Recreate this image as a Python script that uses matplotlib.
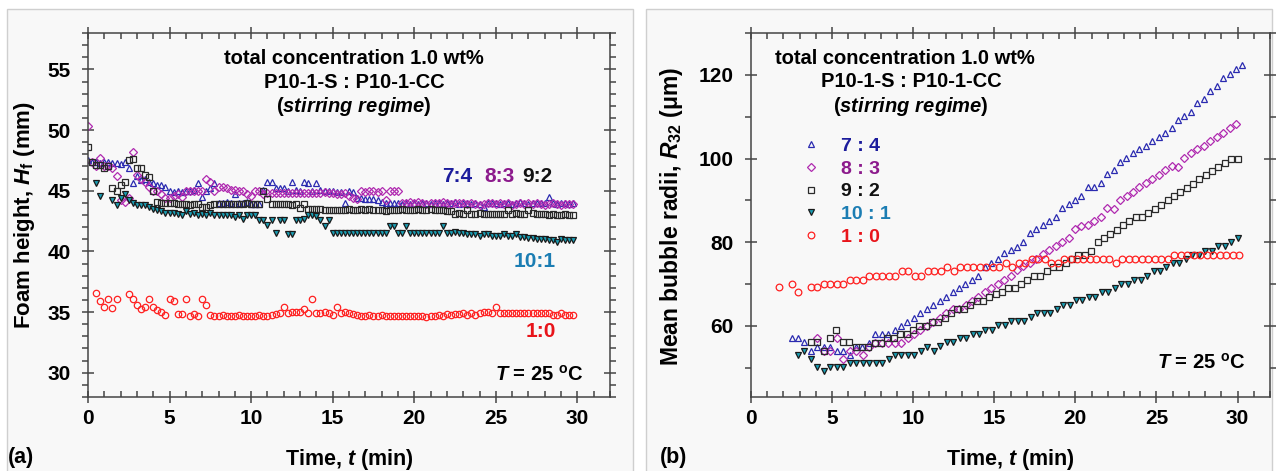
import numpy as np
import matplotlib
matplotlib.use("Agg")
import matplotlib.pyplot as plt
from matplotlib.patches import Rectangle
from matplotlib.lines import Line2D
from matplotlib.ticker import MultipleLocator

plt.rcParams['font.family'] = ['Liberation Sans', 'DejaVu Sans']
plt.rcParams['font.weight'] = 'bold'
plt.rcParams['axes.labelweight'] = 'bold'
plt.rcParams['mathtext.fontset'] = 'custom'
plt.rcParams['mathtext.rm'] = 'Liberation Sans:bold'
plt.rcParams['mathtext.it'] = 'Liberation Sans:italic:bold'
plt.rcParams['mathtext.bf'] = 'Liberation Sans:bold'

nan = np.nan

# ---- (a) foam height (mm), one reading every 0.25 min from t = 0 ----
t_a = np.arange(0, 30, 0.25)

h_74 = [47.5, 47.4, 47.4, 47.3, 47.4, 47.4, 47.3, 47.3, 47.2, 47.4, 46.9, 45.6, 46.2, 45.9, 46.0, 45.7, 45.6, 45.5, 45.5, 45.3,
        45.0, 44.9, 45.0, 44.9, 45.0, 45.0, 45.1, 45.6, 44.5, 45.0, 45.2, 45.6, 44.0, 44.0, 44.1, 44.0, 44.7, 44.0, 44.0, 44.1,
        43.9, 43.9, 43.9, 45.1, 45.7, 45.7, 45.2, 45.2, 45.2, 45.0, 45.7, 45.1, 45.0, 45.7, 45.6, 45.0, 45.6, 45.1, 45.0, 45.0,
        45.0, 44.9, 44.9, 44.0, 45.0, 44.9, 44.4, 44.4, 44.3, 44.3, 44.3, 44.2, 44.1, 44.0, 44.0, 44.0, 44.0, 43.9, 44.0, 43.9,
        44.0, 43.9, 44.0, 44.0, 43.9, 44.0, 44.0, 43.9, 44.0, 44.0, 44.1, 43.9, 44.0, 44.0, 43.9, 44.0, 43.9, 43.7, 44.0, 44.0,
        44.0, 43.9, 44.0, 44.0, 43.9, 44.0, 44.1, 44.0, 43.9, 44.0, 44.0, 44.0, 44.0, 44.5, 44.0, 43.9, 44.0, 44.0, 43.9, 44.0]

h_83 = [50.3, 47.4, 47.0, 47.7, 47.0, 47.0, 46.9, 46.2, 44.2, 44.1, 44.4, 48.2, 46.3, 46.0, 45.7, 45.3, 45.0, 45.0, 44.7, 44.4,
        44.4, 44.6, 44.7, 44.5, 45.0, 45.0, 45.0, 45.0, 45.0, 46.0, 45.7, 45.0, 45.3, 45.3, 45.2, 45.1, 45.1, 45.0, 45.0, 44.7,
        44.6, 45.0, 45.0, 44.7, 44.8, 44.8, 44.8, 44.8, 44.8, 44.8, 44.8, 44.8, 44.8, 44.8, 44.8, 44.8, 44.8, 44.8, 44.9, 44.8,
        44.8, 44.7, 44.7, 44.8, 44.6, 44.4, 44.3, 45.0, 44.9, 45.0, 45.0, 44.9, 45.0, 44.2, 45.0, 45.0, 45.0, 44.0, 44.0, 44.1,
        44.0, 44.1, 44.0, 43.9, 44.0, 44.0, 44.0, 44.1, 44.0, 43.9, 44.0, 44.0, 44.0, 43.9, 44.0, 43.9, 43.8, 43.9, 44.0, 44.0,
        43.9, 44.0, 43.9, 44.0, 43.8, 43.9, 44.0, 43.9, 44.0, 43.9, 44.0, 43.9, 43.8, 43.9, 44.0, 43.9, 43.8, 43.9, 43.9, 43.9]

h_92 = [48.6, 47.4, 47.1, 47.1, 46.9, 47.0, 45.2, 45.0, 45.5, 45.7, 47.5, 47.6, 46.9, 46.9, 46.3, 46.1, 45.0, 44.1, 44.0, 44.0,
        44.0, 44.0, 43.9, 43.9, 43.9, 43.8, 43.9, 43.9, 43.7, 43.7, 43.8, 43.9, 43.9, 43.9, 43.9, 43.9, 43.9, 43.9, 43.9, 44.0,
        43.9, 43.9, 43.9, 45.0, 44.3, 43.9, 43.9, 43.9, 43.9, 43.9, 43.8, 43.9, 43.6, 43.9, 43.5, 43.5, 43.5, 43.5, 43.4, 43.4,
        43.4, 43.4, 43.4, 43.4, 43.5, 43.4, 43.4, 43.5, 43.4, 43.5, 43.4, 43.4, 43.4, 43.3, 43.4, 43.4, 43.4, 43.5, 43.4, 43.4,
        43.4, 43.5, 43.4, 43.4, 43.5, 43.4, 43.4, 43.4, 43.3, 43.3, 43.1, 43.2, 43.1, 43.4, 43.1, 43.1, 43.2, 43.1, 43.1, 43.1,
        43.1, 43.1, 43.1, 43.4, 43.1, 43.2, 43.1, 43.1, 43.4, 43.2, 43.1, 43.1, 43.1, 43.0, 43.1, 43.0, 43.0, 43.1, 43.0, 43.0]

h_101 = [nan, nan, 45.6, 44.6, nan, nan, 44.2, 43.8, 44.4, 44.7, 44.2, 44.0, 43.8, 43.8, 43.8, 43.7, 43.5, 43.4, 43.3, 43.2,
         43.2, 43.2, 43.1, 43.0, 43.3, 43.1, 43.2, 43.0, 43.1, 43.0, 43.2, 43.0, 43.0, 43.0, 43.0, 43.0, 42.8, 43.0, 42.7, 43.0,
         43.0, 43.0, 42.6, 42.6, 42.2, 42.6, 41.5, 42.6, 42.6, 41.4, 41.4, 42.6, 42.6, 42.7, 43.0, 43.0, 42.9, 42.6, 42.1, 42.6,
         41.5, 41.5, 41.5, 41.5, 41.5, 41.5, 41.5, 41.5, 41.5, 41.5, 41.5, 41.5, 41.5, 41.5, 42.1, 42.1, 41.5, 41.5, 42.1, 41.5,
         41.5, 41.5, 41.5, 41.5, 41.5, 41.5, 41.5, 42.1, 41.5, 41.5, 41.6, 41.5, 41.5, 41.4, 41.4, 41.4, 41.3, 41.4, 41.4, 41.3,
         41.3, 41.3, 41.4, 41.3, 41.3, 41.4, 41.2, 41.2, 41.1, 41.1, 41.0, 41.0, 41.0, 40.9, 40.9, 40.8, 41.0, 40.9, 40.9, 40.9]

h_10 = [nan, nan, 36.55, 35.95, 35.45, 36.05, 35.3, 36.05, nan, nan, 36.45, 36.05, 35.6, 35.25, 35.45, 36.1, 35.45, 35.2, 35.0, 34.75,
        36.1, 35.9, 34.8, 34.8, 36.1, 34.7, 34.8, 34.7, 36.1, 35.6, 34.75, 34.7, 34.65, 34.75, 34.7, 34.65, 34.7, 34.75, 34.7, 34.7,
        34.65, 34.7, 34.75, 34.7, 34.7, 34.75, 34.8, 34.95, 35.45, 34.95, 35.0, 35.0, 35.0, 35.25, 34.95, 36.1, 34.95, 34.95, 35.0, 34.95,
        34.75, 35.45, 34.95, 35.0, 34.95, 34.8, 34.75, 34.7, 34.7, 34.75, 34.7, 34.7, 34.75, 34.7, 34.7, 34.7, 34.65, 34.7, 34.7, 34.65,
        34.7, 34.65, 34.7, 34.6, 34.7, 34.7, 34.75, 34.7, 34.8, 34.75, 34.8, 34.8, 34.95, 34.75, 34.95, 34.75, 34.95, 35.0, 35.0, 34.95,
        35.45, 34.95, 34.95, 34.95, 34.95, 34.95, 34.95, 34.95, 34.95, 34.95, 34.95, 34.95, 34.95, 34.95, 34.75, 34.75, 34.95, 34.75, 34.75, 34.75]

# ---- (b) mean bubble radius R32 (um); first/last reading time, evenly spaced ----
r_74 = [57.1, 57.1, 56.1, 54.1, 55, 55, 55, 54, 54, 53,
        55, 55, 56, 58, 58, 58, 59, 60, 61, 62,
        63, 64, 65, 66, 67, 68, 69, 70, 71, 72,
        74, 75, 76, 77.3, 78.1, 78.9, 80.1, 82.1, 83.1, 84.1,
        85.1, 86.1, 88.1, 89.2, 90.1, 91.1, 93.2, 93.2, 94.1, 96.2,
        97.2, 99.1, 100.2, 101.2, 102.2, 103.1, 104.2, 105.2, 106.2, 107.2,
        109.3, 110.2, 111.2, 113.3, 114.2, 116.2, 117.3, 119.2, 120.2, 121.3,
        122.3]
r_83 = [57.1, 54.1, 54.0, 57.1, 52.1, 54.1, 54.0, 53.1, 55.0, 56.0,
        56.0, 56.0, 56.0, 56.0, 57.0, 58.0, 59.0, 60.0, 61.0, 62.0,
        63.0, 64.0, 64.0, 65.0, 66.0, 67.0, 68.0, 69.0, 70.0, 71.0,
        72.0, 73.3, 74.2, 75.0, 76.1, 77.1, 78.1, 79.0, 80.1, 81.1,
        83.1, 83.9, 84.1, 85.1, 86.1, 88.1, 87.9, 90.1, 91.1, 92.1,
        93.2, 94.1, 95.1, 96.1, 97.2, 98.2, 98.0, 100.2, 101.2, 102.2,
        103.1, 104.2, 105.2, 106.2, 107.2, 108.2]
r_92 = [56.1, 56.1, 54.1, 57.1, 59.0, 56.1, 56.1, 55, 55, 55,
        56, 56, 57, 57, 58, 58, 59, 60, 60, 61,
        61, 62, 63, 64, 64, 65, 66, 66, 67, 67.5,
        68, 69, 69, 70, 71, 72, 72, 73, 74, 74,
        75, 76, 77, 77, 78, 80, 81, 82, 83, 84,
        85, 86, 86, 87, 88, 89, 90, 91, 92, 93,
        94, 95, 96, 97, 98, 99, 100, 100]
r_101 = [53.1, 54.1, 52.1, 50.1, 49.1, 50.1, 50.1, 50.1, 51.1, 51.1,
         51.1, 51.1, 51.1, 51.1, 52.1, 53.1, 53.1, 53.1, 53.1, 54.1,
         54.9, 54.1, 55.1, 56.1, 56.1, 57.1, 57.1, 58.1, 58.1, 59.1,
         59.1, 60.1, 60.1, 61.1, 61.1, 61.1, 62.1, 63.1, 63.1, 63.1,
         64.1, 65.1, 65.1, 66.1, 66.1, 67, 67, 68, 68, 69,
         70, 70, 71, 71, 72, 73, 73, 74, 75, 75,
         76, 77, 77, 78, 78, 79, 79, 80, 81]
r_10 = [69.2, nan, 70.1, 68.1, nan, 69.2, 69.2, 70, 70, 70,
        70, 71, 71, 71, 72, 72, 72, 72, 72, 73,
        73, 72, 72, 73, 73, 73, 74, 73, 74, 74,
        74, 74, 74, 74, 74, 75, 74, 75, 75, 76,
        76, 76, 75, 75, 76, 76, 76, 76, 76, 76,
        76, 76, 75, 76, 76, 76, 76, 76, 76, 76,
        76, 77, 77, 77, 77, 77, 77, 77, 77, 77,
        77, 77]
r_first_last = [(2.5, 30.3), (4.1, 29.9), (3.7, 30.0), (2.9, 30.0), (1.7, 30.1)]

labels_a = ['7:4', '8:3', '9:2', '10:1', '1:0']
labels_b = ['7 : 4', '8 : 3', '9 : 2', '10 : 1', '1 : 0']
text_colors = ['#1c1c9c', '#8c1a8c', '#111111', '#1b7db3', '#e8141a']

# marker styles for 7:4, 8:3, 9:2, 10:1, 1:0
styles = [dict(marker='^', mfc='none', mec='#2a2ab0'),
          dict(marker='D', mfc='none', mec='#b02ab0'),
          dict(marker='s', mfc='none', mec='#2a2a2a'),
          dict(marker='v', mfc='#1a9fb5', mec='#1a1a1a'),
          dict(marker='o', mfc='none', mec='#ff2020')]
msize_a = [5.0, 4.2, 4.6, 5.0, 4.6]
msize_b = [5.0, 4.2, 4.6, 5.0, 4.8]

fig = plt.figure(figsize=(12.79, 4.71), dpi=100, facecolor='white')

# light panel frames behind each graph
for x0 in (7 / 1279, 646 / 1279):
    fig.add_artist(Rectangle((x0, -0.02), 626 / 1279, 1.0, transform=fig.transFigure,
                             facecolor='#f8f8f8', edgecolor='#cfcfcf', lw=1, zorder=-10))

ax1 = fig.add_axes([88 / 1279, 74 / 471, 522 / 1279, 364 / 471])
ax2 = fig.add_axes([751 / 1279, 74 / 471, 519 / 1279, 364 / 471])


def style_axes(ax, ymaj, ymin):
    ax.set_facecolor('#f8f8f8')
    ax.xaxis.set_major_locator(MultipleLocator(5))
    ax.xaxis.set_minor_locator(MultipleLocator(1))
    ax.yaxis.set_major_locator(MultipleLocator(ymaj))
    ax.yaxis.set_minor_locator(MultipleLocator(ymin))
    ax.tick_params(which='both', top=True, right=True, color='#444444', width=1.1)
    ax.tick_params(which='major', direction='inout', length=9, labelsize=15)
    ax.tick_params(axis='x', which='major', pad=4)
    ax.tick_params(axis='y', which='major', pad=8)
    ax.tick_params(axis='x', which='minor', direction='in', length=4)
    ax.tick_params(axis='y', which='minor', direction='out', length=4)
    for s in ax.spines.values():
        s.set_color('#444444')
        s.set_linewidth(1.1)


# ---- panel (a) ----
for vals, st, ms in zip([h_74, h_83, h_92, h_101, h_10], styles, msize_a):
    ax1.plot(t_a, vals, ls='none', ms=ms, mew=0.9, **st)
ax1.set_xlim(0, 32)
ax1.set_ylim(28, 58)
style_axes(ax1, 5, 1)
ax1.set_xlabel('Time, $t$ (min)', fontsize=15.5)
ax1.xaxis.set_label_coords(0.5, -0.138)
ax1.set_ylabel('Foam height, $H_\\mathrm{f}$ (mm)', fontsize=16)
ax1.yaxis.set_label_coords(-0.098, 0.5)

for s, y in zip(['total concentration 1.0 wt%', 'P10-1-S : P10-1-CC',
                 '($stirring\\ regime$)'], [0.931, 0.865, 0.797]):
    ax1.text(0.51, y, s, transform=ax1.transAxes, ha='center', va='center', fontsize=14.5)

for lab, c, x, y in zip(labels_a, text_colors,
                        [0.707, 0.789, 0.860, 0.856, 0.868],
                        [0.607, 0.607, 0.607, 0.371, 0.181]):
    ax1.text(x, y, lab, transform=ax1.transAxes, ha='center', va='center',
             fontsize=15, color=c)
ax1.text(0.95, 0.062, '$T$ = 25 $^{\\mathrm{o}}$C', transform=ax1.transAxes,
         ha='right', va='center', fontsize=14.5)

# ---- panel (b) ----
for vals, (t0, t1), st, ms in zip([r_74, r_83, r_92, r_101, r_10], r_first_last, styles, msize_b):
    tt = np.linspace(t0, t1, len(vals))
    ax2.plot(tt, vals, ls='none', ms=ms, mew=0.9, **st)
ax2.set_xlim(0, 32)
ax2.set_ylim(43, 130)
style_axes(ax2, 20, 10)
ax2.set_xlabel('Time, $t$ (min)', fontsize=15.5)
ax2.xaxis.set_label_coords(0.5, -0.138)
ax2.set_ylabel('Mean bubble radii, $R_\\mathrm{32}$ (\u03bcm)', fontsize=16.5)
ax2.yaxis.set_label_coords(-0.128, 0.497)

for s, x, y in zip(['total concentration 1.0 wt%', 'P10-1-S : P10-1-CC',
                    '($stirring\\ regime$)'], [0.297, 0.308, 0.308], [0.931, 0.868, 0.799]):
    ax2.text(x, y, s, transform=ax2.transAxes, ha='center', va='center', fontsize=14.5)

handles = [Line2D([], [], ls='none', ms=ms, mew=0.9, **st) for st, ms in zip(styles, msize_b)]
ax2.legend(handles, labels_b, loc='upper left', bbox_to_anchor=(0.097, 0.714),
           frameon=False, fontsize=14, labelcolor=text_colors, borderpad=0,
           handlelength=1.0, handletextpad=1.05, labelspacing=0.27, borderaxespad=0)
ax2.text(0.952, 0.093, '$T$ = 25 $^{\\mathrm{o}}$C', transform=ax2.transAxes,
         ha='right', va='center', fontsize=14.5)

fig.text(8 / 1279, 14 / 471, '(a)', fontsize=15.5, ha='left', va='center')
fig.text(660 / 1279, 14 / 471, '(b)', fontsize=15.5, ha='left', va='center')

fig.savefig('out.png', dpi=100, facecolor='white')
